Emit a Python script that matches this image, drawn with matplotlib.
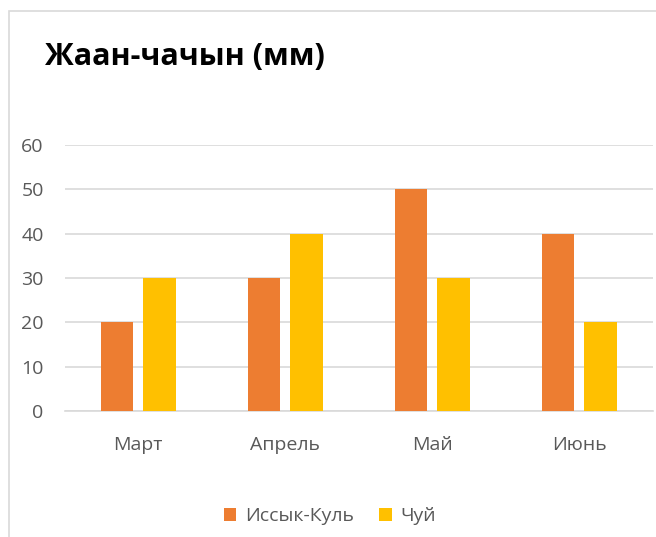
import matplotlib.pyplot as plt
from matplotlib.patches import Rectangle
import numpy as np

# данные
months = ["Март", "Апрель", "Май", "Июнь"]
issyk_kul = [20, 30, 50, 40]
chui = [30, 40, 30, 20]
series_names = ["Иссык-Куль", "Чуй"]
yticks = [0, 10, 20, 30, 40, 50, 60]

W, H = 656, 537
fig = plt.figure(figsize=(W / 100, H / 100), dpi=100)

# рамка диаграммы (обрезана справа и снизу)
fig.patches.append(Rectangle((9 / W, -0.1), 1.2, 1.1 - 11 / H, transform=fig.transFigure,
                             fill=False, edgecolor="#D9D9D9", linewidth=1.2))

ax = fig.add_axes([64.5 / W, 1 - 411 / H, 588 / W, 266 / H])

x = np.arange(len(months))
w = 0.22
ax.bar(x - 0.143, issyk_kul, w, color="#ED7D31", label=series_names[0], zorder=3)
ax.bar(x + 0.146, chui, w, color="#FFC000", label=series_names[1], zorder=3)

ax.set_xlim(-0.5, len(months) - 0.5)
ax.set_ylim(0, 60)
ax.set_yticks(yticks)
ax.set_xticks(x)
ax.set_xticklabels(months)
ax.grid(axis="y", color="#D9D9D9", linewidth=1.2, zorder=0)
for s in ["top", "right", "left"]:
    ax.spines[s].set_visible(False)
ax.spines["bottom"].set_color("#D9D9D9")
ax.spines["bottom"].set_linewidth(1.2)
ax.tick_params(axis="both", length=0, labelsize=14, labelcolor="#595959")
ax.tick_params(axis="y", pad=15)
ax.tick_params(axis="x", pad=18)
for lab in ax.get_xticklabels() + ax.get_yticklabels():
    lab.set_family("Open Sans")

fig.text(45 / W, 1 - 65 / H, "Жаан-чачын (мм)", fontsize=22, fontweight="bold",
         family="Open Sans", ha="left", va="baseline", color="black")

fig.legend(loc="center", bbox_to_anchor=(330 / W, 1 - 516 / H), ncol=2, frameon=False,
           prop={"family": "Open Sans", "size": 14}, labelcolor="#595959",
           handlelength=0.65, handleheight=0.65, handletextpad=0.45, columnspacing=1.3)

fig.savefig("out.png", dpi=100)
